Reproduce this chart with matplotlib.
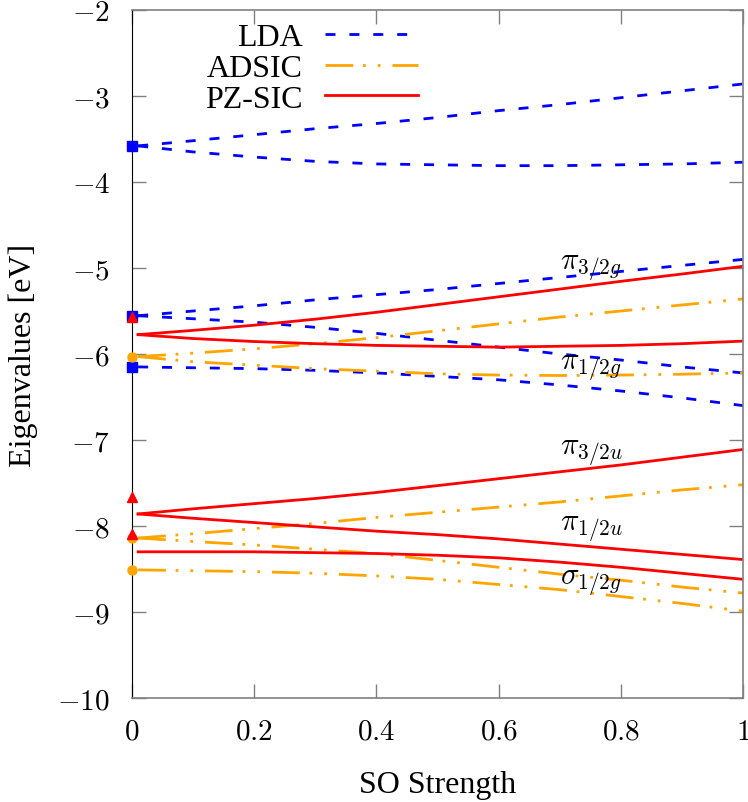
import numpy as np
import matplotlib
matplotlib.use("Agg")
import matplotlib.pyplot as plt
from matplotlib.ticker import FuncFormatter

plt.rcParams['font.family'] = ['Liberation Serif', 'DejaVu Serif']
plt.rcParams['mathtext.fontset'] = 'cm'

############################################
# data
so = [0.01, 0.1, 0.2, 0.3, 0.4, 0.5, 0.6, 0.7, 0.8, 0.9, 1.0]

# LDA
lda_1 = [-3.58, -3.52, -3.45, -3.38, -3.32, -3.25, -3.17, -3.10, -3.02, -2.94, -2.86]
lda_2 = [-3.58, -3.65, -3.71, -3.76, -3.79, -3.80, -3.81, -3.81, -3.80, -3.79, -3.77]
lda_3 = [-5.555, -5.50, -5.44, -5.37, -5.31, -5.25, -5.18, -5.11, -5.04, -4.97, -4.90]
lda_4 = [-5.555, -5.59, -5.63, -5.69, -5.76, -5.84, -5.92, -6.00, -6.07, -6.15, -6.22]
lda_5 = [-6.15, -6.16, -6.17, -6.19, -6.22, -6.26, -6.30, -6.36, -6.43, -6.51, -6.60]

# ADSIC
adsic_1 = [-6.03, -5.99, -5.94, -5.88, -5.81, -5.73, -5.65, -5.57, -5.50, -5.43, -5.36]
adsic_2 = [-6.03, -6.09, -6.13, -6.17, -6.20, -6.23, -6.245, -6.25, -6.245, -6.235, -6.22]
adsic_3 = [-8.14, -8.09, -8.03, -7.97, -7.90, -7.84, -7.78, -7.72, -7.65, -7.58, -7.52]
adsic_4 = [-8.14, -8.18, -8.22, -8.27, -8.32, -8.40, -8.48, -8.56, -8.63, -8.71, -8.78]
adsic_5 = [-8.51, -8.52, -8.53, -8.55, -8.58, -8.62, -8.68, -8.74, -8.82, -8.90, -8.99]

# PZ-SIC
pz_1 = [-5.775, -5.725, -5.665, -5.595, -5.515, -5.425, -5.335, -5.245, -5.155, -5.07, -4.98]
pz_2 = [-5.775, -5.82, -5.855, -5.88, -5.90, -5.91, -5.92, -5.91, -5.90, -5.88, -5.85]
pz_3 = [-7.86, -7.80, -7.74, -7.68, -7.61, -7.53, -7.45, -7.37, -7.29, -7.20, -7.11]
pz_4 = [-7.86, -7.91, -7.96, -8.01, -8.06, -8.10, -8.15, -8.21, -8.27, -8.33, -8.39]
pz_5 = [-8.30, -8.30, -8.30, -8.31, -8.32, -8.34, -8.37, -8.42, -8.48, -8.55, -8.62]

# values at zero SO strength
lda_0 = [-3.58, -5.555, -6.15]
adsic_0 = [-6.03, -8.14, -8.51]
pz_0 = [-5.565, -7.665, -8.09]

# state labels
state_text = [r'$\pi_{3/2g}$', r'$\pi_{1/2g}$', r'$\pi_{3/2u}$', r'$\pi_{1/2u}$', r'$\sigma_{1/2g}$']
state_y = [-4.99, -6.15, -7.14, -8.03, -8.65]

#############################################
## Plotting Data
fig = plt.figure(figsize=(7.48, 8.03), dpi=100)
ax = fig.add_axes([0.1765, 0.1295, 0.8168, 0.8568])

lda_style = dict(color='#0000ff', lw=2, dashes=(3.6, 5.0))
adsic_style = dict(color='#ffa500', lw=2, dashes=(10, 3.5, 1, 4.3, 1, 4.3))
pz_style = dict(color='#ff0000', lw=2, ls='-')

for i, y in enumerate([lda_1, lda_2, lda_3, lda_4, lda_5]):
    ax.plot(so, y, label='LDA' if i == 0 else None, **lda_style)
for i, y in enumerate([adsic_1, adsic_2, adsic_3, adsic_4, adsic_5]):
    ax.plot(so, y, label='ADSIC' if i == 0 else None, **adsic_style)
for i, y in enumerate([pz_1, pz_2, pz_3, pz_4, pz_5]):
    ax.plot(so, y, label='PZ-SIC' if i == 0 else None, **pz_style)

ax.plot([0] * 3, lda_0, 's', color='#0000ff', ms=6.5, clip_on=False, zorder=5)
ax.plot([0] * 3, adsic_0, 'o', color='#ffa500', ms=6.5, clip_on=False, zorder=5)
ax.plot([0] * 3, pz_0, '^', color='#ff0000', ms=6.5, clip_on=False, zorder=6)

for t, y in zip(state_text, state_y):
    ax.text(0.70, y, t, fontsize=22, va='center', ha='left')

# options
ax.set_xlim(0, 1)
ax.set_ylim(-10, -2)
ax.set_xticks([0, 0.2, 0.4, 0.6, 0.8, 1])
ax.set_yticks(range(-10, -1))
ax.xaxis.set_major_formatter(FuncFormatter(lambda v, p: '$%g$' % v))
ax.yaxis.set_major_formatter(FuncFormatter(lambda v, p: '$%g$' % v))
ax.tick_params(direction='in', length=10, width=1, color='#808080',
               labelsize=21, top=True, right=True)
ax.tick_params(axis='x', pad=15)
ax.tick_params(axis='y', pad=16)
for side in ['top', 'right', 'bottom']:
    ax.spines[side].set_color('#808080')
    ax.spines[side].set_linewidth(1.2)
ax.spines['left'].set_color('black')

ax.set_xlabel('SO Strength', fontsize=23, labelpad=18)
ax.set_ylabel('Eigenvalues [eV]', fontsize=23, labelpad=14)

leg = ax.legend(loc='upper right', bbox_to_anchor=(0.468, 0.982), frameon=False,
                markerfirst=False, fontsize=23, handlelength=2.9, handletextpad=0.7,
                labelspacing=0.05, borderpad=0, borderaxespad=0)
for txt in leg.get_texts():
    txt.set_ha('right')

fig.savefig('out.png', dpi=100)
